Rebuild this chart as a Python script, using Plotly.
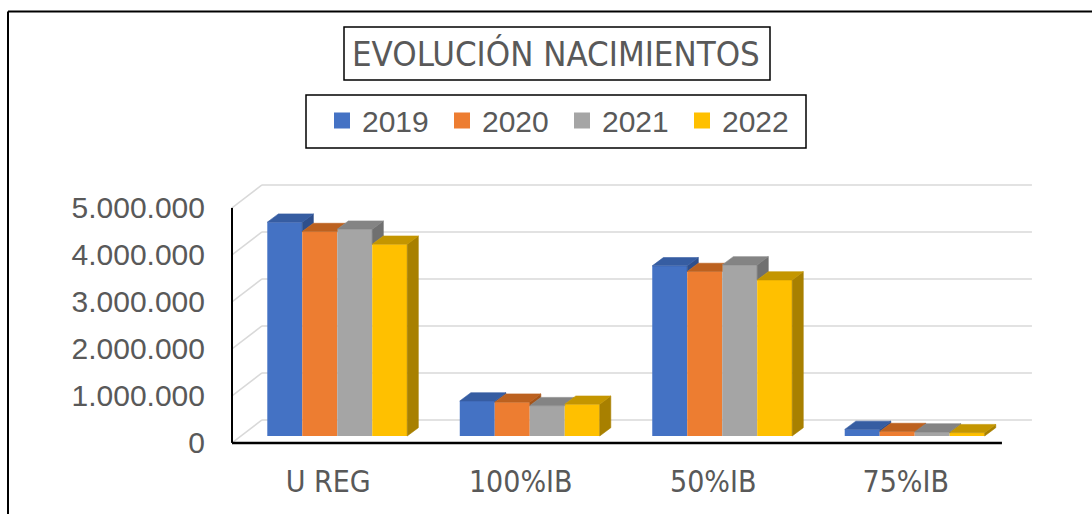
import plotly.graph_objects as go

# ---------------- data ----------------
categories = ["U REG", "100%IB", "50%IB", "75%IB"]
years = ["2019", "2020", "2021", "2022"]
births_2019 = [4550000, 745000, 3620000, 140000]
births_2020 = [4350000, 720000, 3500000, 95000]
births_2021 = [4400000, 645000, 3640000, 85000]
births_2022 = [4080000, 675000, 3320000, 70000]
y_ticks = [0, 1000000, 2000000, 3000000, 4000000, 5000000]
y_tick_labels = ["0", "1.000.000", "2.000.000", "3.000.000", "4.000.000", "5.000.000"]
title_text = "EVOLUCIÓN NACIMIENTOS"

series = [births_2019, births_2020, births_2021, births_2022]
front_colors = ["#4472C4", "#ED7D31", "#A5A5A5", "#FFC000"]
top_colors = ["#365DA2", "#BC611F", "#848484", "#C49600"]
side_colors = ["#2E4F8C", "#A55419", "#707070", "#A88000"]

# ---------------- geometry ----------------
W, H = 1092, 514
L, R, T, B = 226, 52, 180, 64
PW, PH = W - L - R, H - T - B
X_RANGE = [-0.578, 3.651]
Y_RANGE = [-298000, 5447000]
px_x = PW / (X_RANGE[1] - X_RANGE[0])
px_y = PH / (Y_RANGE[1] - Y_RANGE[0])

depth_x = 30 / px_x
depth_y = 23 / px_y
front_dx, front_dy = -0.3 * depth_x, -0.3 * depth_y
back_dx, back_dy = 0.7 * depth_x, 0.7 * depth_y
bar_dx, bar_dy = 0.37 * depth_x, 0.36 * depth_y

group_w = 0.727
bar_w = group_w / 4
ncat = len(categories)


def pxx(px):
    return (px - L) / PW


def pyy(py):
    return (H - B - py) / PH


fig = go.Figure()

# front faces (bars)
for s, vals in enumerate(series):
    fig.add_trace(go.Bar(
        x=list(range(ncat)), y=vals, width=bar_w,
        offset=-group_w / 2 + s * bar_w,
        marker=dict(color=front_colors[s], line=dict(width=0)),
        showlegend=False, hoverinfo="skip", name=years[s]))

# top and side faces
for s, vals in enumerate(series):
    tx, ty, sx, sy = [], [], [], []
    for c in range(ncat):
        h = vals[c]
        x0 = c - group_w / 2 + s * bar_w
        x1 = x0 + bar_w
        hn = series[s + 1][c] if s < len(series) - 1 else None
        if hn is not None and hn > h:
            hc = min(hn, h + bar_dy)
            pts = [(x0, h), (x1, h), (x1, hc),
                   (x1 + bar_dx * (h + bar_dy - hc) / bar_dy, h + bar_dy),
                   (x0 + bar_dx, h + bar_dy)]
        else:
            pts = [(x0, h), (x1, h), (x1 + bar_dx, h + bar_dy), (x0 + bar_dx, h + bar_dy)]
        pts.append(pts[0])
        tx += [p[0] for p in pts] + [None]
        ty += [p[1] for p in pts] + [None]
        lo = hn if hn is not None else 0
        if lo < h:
            sp = [(x1, lo), (x1, h), (x1 + bar_dx, h + bar_dy), (x1 + bar_dx, lo + bar_dy), (x1, lo)]
            sx += [p[0] for p in sp] + [None]
            sy += [p[1] for p in sp] + [None]
    fig.add_trace(go.Scatter(x=sx, y=sy, mode="lines", fill="toself",
                             fillcolor=side_colors[s],
                             line=dict(width=0.6, color=side_colors[s]),
                             showlegend=False, hoverinfo="skip"))
    fig.add_trace(go.Scatter(x=tx, y=ty, mode="lines", fill="toself",
                             fillcolor=top_colors[s],
                             line=dict(width=0.6, color=top_colors[s]),
                             showlegend=False, hoverinfo="skip"))

# legend entries
for s in range(len(series)):
    fig.add_trace(go.Scatter(x=[None], y=[None], mode="markers", name=years[s],
                             marker=dict(symbol="square", size=16, color=front_colors[s]),
                             showlegend=True, hoverinfo="skip"))

shapes = []
grid_color = "#D9D9D9"
xl_front = -0.5 + front_dx
xl_back = -0.5 + back_dx
xr_front = ncat - 0.5 + front_dx
xr_back = ncat - 0.5 + back_dx
for v in y_ticks:
    shapes.append(dict(type="line", xref="x", yref="y", layer="below",
                       x0=xl_back, x1=xr_back, y0=v + back_dy, y1=v + back_dy,
                       line=dict(color=grid_color, width=1.5)))
    shapes.append(dict(type="line", xref="x", yref="y", layer="below",
                       x0=xl_front, x1=xl_back, y0=v + front_dy, y1=v + back_dy,
                       line=dict(color=grid_color, width=1.5)))
# front axes
shapes.append(dict(type="line", xref="x", yref="y", layer="above",
                   x0=xl_front, x1=xl_front, y0=y_ticks[0] + front_dy, y1=y_ticks[-1] + front_dy,
                   line=dict(color="black", width=2)))
shapes.append(dict(type="line", xref="x", yref="y", layer="above",
                   x0=xl_front, x1=xr_front, y0=front_dy, y1=front_dy,
                   line=dict(color="black", width=2.5)))
# outer border
shapes.append(dict(type="line", xref="paper", yref="paper",
                   x0=pxx(8), x1=pxx(1095), y0=pyy(11.5), y1=pyy(11.5),
                   line=dict(color="black", width=2)))
shapes.append(dict(type="line", xref="paper", yref="paper",
                   x0=pxx(8), x1=pxx(8), y0=pyy(11.5), y1=pyy(520),
                   line=dict(color="black", width=2)))
# title box & legend box
shapes.append(dict(type="rect", xref="paper", yref="paper",
                   x0=pxx(344), x1=pxx(770), y0=pyy(27), y1=pyy(80),
                   line=dict(color="black", width=1.5)))
shapes.append(dict(type="rect", xref="paper", yref="paper",
                   x0=pxx(306), x1=pxx(806), y0=pyy(95), y1=pyy(148),
                   line=dict(color="black", width=1.5)))

txt_color = "#595959"
narrow = "Liberation Sans Narrow, DejaVu Sans Condensed, Arial Narrow, sans-serif"
regular = "Liberation Sans, Arial, sans-serif"

fig.update_layout(
    width=W, height=H, autosize=False,
    margin=dict(l=L, r=R, t=T, b=B, pad=0),
    paper_bgcolor="white", plot_bgcolor="white",
    barmode="overlay", hovermode=False,
    shapes=shapes,
    annotations=[dict(text=title_text, xref="paper", yref="paper",
                      x=pxx(556), y=pyy(54), xanchor="center", yanchor="middle",
                      showarrow=False, font=dict(family=narrow, size=34.5, color=txt_color))],
    legend=dict(orientation="h", x=pxx(322), y=pyy(120.5), xanchor="left", yanchor="middle",
                font=dict(family=regular, size=30, color=txt_color),
                bgcolor="rgba(0,0,0,0)", borderwidth=0,
                entrywidth=75, entrywidthmode="pixels", itemsizing="trace"),
    xaxis=dict(range=X_RANGE, showgrid=False, zeroline=False, showline=False,
               tickmode="array", tickvals=[i + front_dx for i in range(ncat)], ticktext=categories,
               ticks="", ticklabelstandoff=11,
               tickfont=dict(family=narrow, size=30, color=txt_color), fixedrange=True),
    yaxis=dict(range=Y_RANGE, showgrid=False, zeroline=False, showline=False,
               tickmode="array", tickvals=[v + front_dy for v in y_ticks], ticktext=y_tick_labels,
               ticks="", ticklabelstandoff=20,
               tickfont=dict(family=regular, size=30, color=txt_color), fixedrange=True),
)

fig.write_html("out.html", config={"displayModeBar": False},
               post_script="document.body.style.margin='0';")
